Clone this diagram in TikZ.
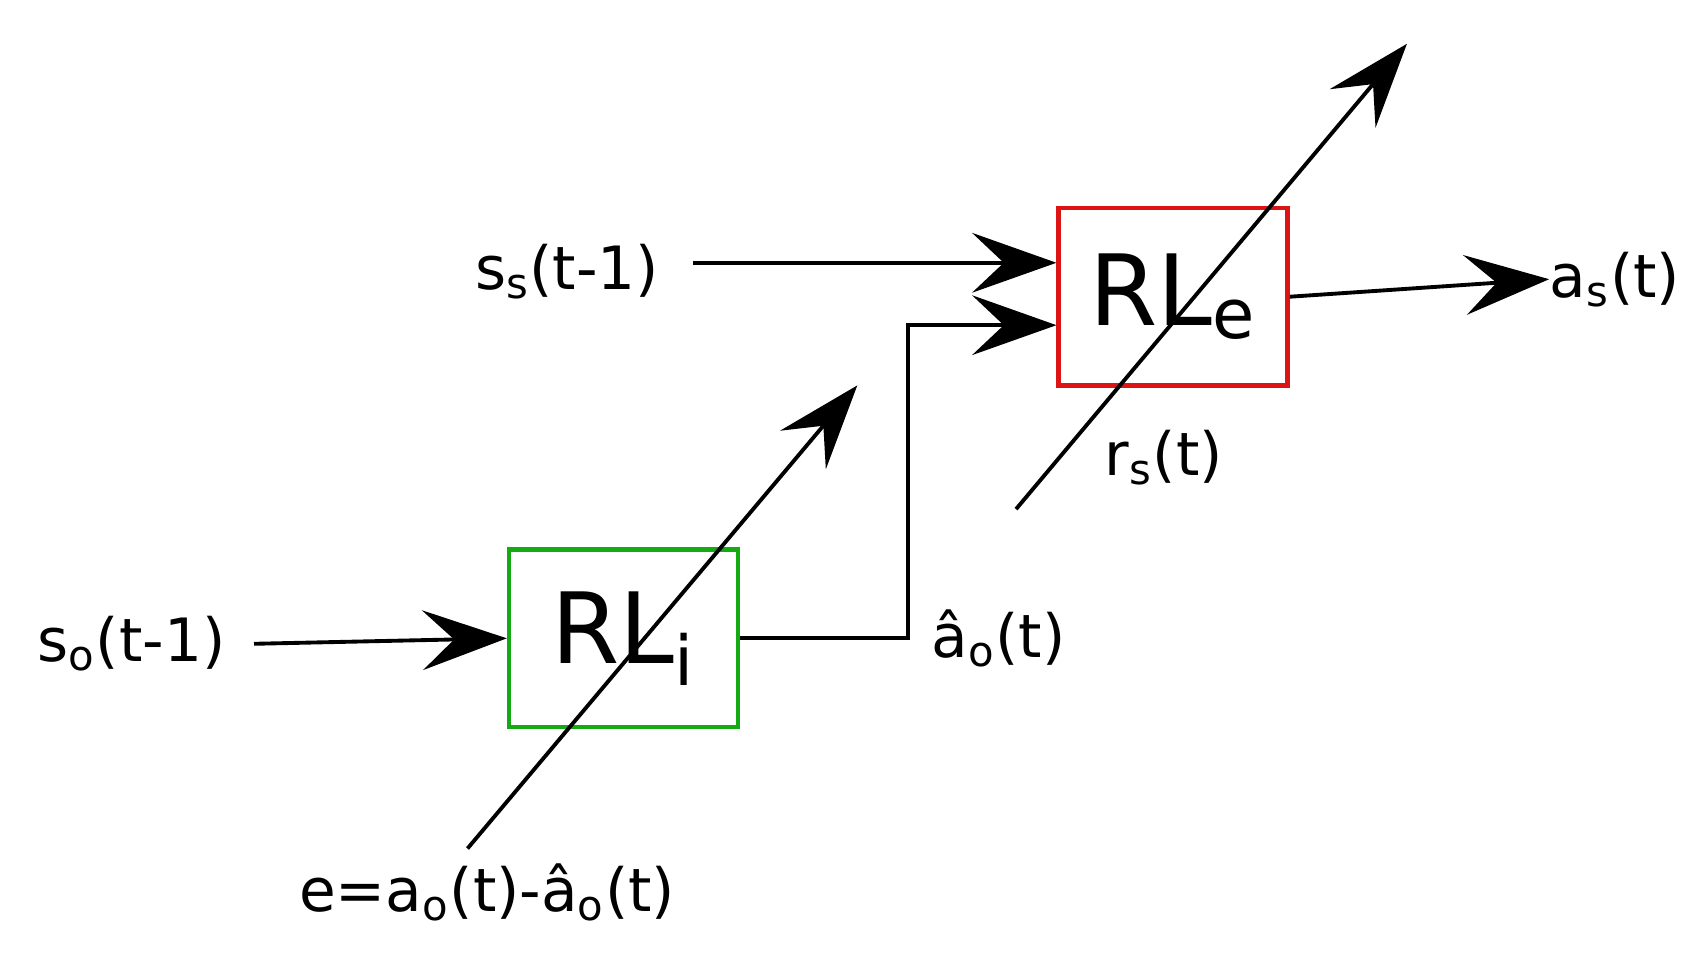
\documentclass[tikz,border=0pt]{standalone}
\usepackage{fontspec}
\setmainfont{DejaVu Sans}
\usetikzlibrary{arrows.meta}
\begin{document}
\begin{tikzpicture}[x=0.01095cm,y=-0.01095cm,
  ln/.style={line width=1.1pt},
  ar/.style={ln,-{Stealth[length=24pt,width=17pt,inset=9pt]}},
  lbl/.style={font=\fontsize{17}{20}\selectfont,inner sep=0pt},
  box/.style={draw,line width=1.3pt,minimum width=209*0.01095cm,minimum height=162*0.01095cm,inner sep=0pt,font=\fontsize{28}{30}\selectfont}]
\useasboundingbox (0,0) rectangle (1560,876);
\node[box,draw={rgb,255:red,220;green,20;blue,20}] (rle) at (1071.5,271) {RL$_{\mathrm{e}}$};
\node[box,draw={rgb,255:red,20;green,170;blue,20}] (rli) at (569.5,583) {RL$_{\mathrm{i}}$};
\node[lbl] (ss) at (518,248) {s$_{\mathrm{s}}$(t-1)};
\node[lbl] (so) at (120,588) {s$_{\mathrm{o}}$(t-1)};
\node[lbl] (ah) at (912,583) {â$_{\mathrm{o}}$(t)};
\node[lbl] (as) at (1475,255) {a$_{\mathrm{s}}$(t)};
\node[lbl] (rs) at (1063,418) {r$_{\mathrm{s}}$(t)};
\node[lbl] (e) at (445,815) {e=a$_{\mathrm{o}}$(t)-â$_{\mathrm{o}}$(t)};
\coordinate (c1) at (829,583);
\coordinate (c2) at (829,297);
\coordinate (d1s) at (928,465); \coordinate (d1e) at (1285,40);
\coordinate (d2s) at (427,775); \coordinate (d2e) at (783,352);
\coordinate (ssE) at (633,240); \coordinate (soE) at (232,588);
\draw[ar] (ssE) -- (ssE -| rle.west);
\draw[ar] (soE) -- (rli.west);
\draw[ar] (rli.east |- c1) -- (c1) -- (c2) -- (c2 -| rle.west);
\draw[ar] (rle.east) -- (as.west);
\draw[ar] (d1s) -- (d1e);
\draw[ar] (d2s) -- (d2e);
\end{tikzpicture}
\end{document}
